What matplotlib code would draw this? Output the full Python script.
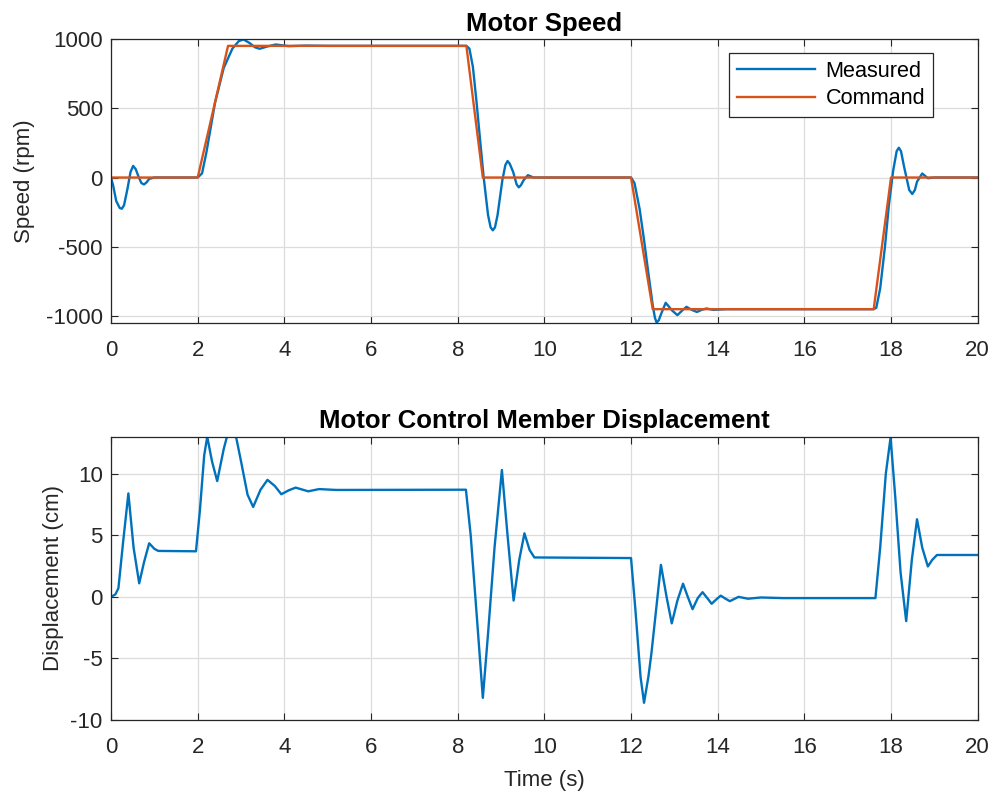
import numpy as np
import matplotlib.pyplot as plt


# Data ------------------------------------------------------------------

Command_T = [0, 2.0, 2.7, 8.2, 8.58, 12.0, 12.5, 17.6, 18.0, 20]
Command_V = [0, 0, 950, 950, 0, 0, -950, -950, 0, 0]

Speed_T = [0, 0.05, 0.12, 0.2, 0.25, 0.3, 0.38, 0.45, 0.51, 0.57, 0.63, 0.7, 0.76, 0.82, 0.88, 1.0,
           2.0, 2.1, 2.2, 2.4, 2.6, 2.8, 2.95, 3.06, 3.2, 3.32, 3.43, 3.6, 3.8, 4.1, 4.5, 5.0,
           8.2, 8.27, 8.35, 8.43, 8.52, 8.6, 8.7, 8.76, 8.81, 8.86, 8.92, 9.03, 9.1, 9.15, 9.2,
           9.28, 9.36, 9.41, 9.46, 9.52, 9.62, 9.75,
           12.0, 12.08, 12.2, 12.3, 12.4, 12.5, 12.55, 12.59, 12.64, 12.7, 12.8, 12.95, 13.07,
           13.18, 13.28, 13.4, 13.52, 13.63, 13.74, 13.9, 14.2,
           17.6, 17.66, 17.75, 17.86, 17.95, 18.05, 18.13, 18.18, 18.23, 18.3, 18.42, 18.49,
           18.55, 18.6, 18.72, 18.85, 19.0, 20]
Speed_V = [0, -60, -170, -220, -225, -200, -80, 40, 84, 60, 10, -40, -50, -35, -10, 0,
           0, 30, 180, 540, 790, 930, 985, 996, 970, 940, 929, 945, 960, 948, 952, 950,
           950, 930, 800, 560, 260, 0, -270, -360, -381, -360, -270, -20, 90, 119, 100,
           40, -50, -71, -55, -20, 17, 0,
           0, -40, -230, -450, -690, -920, -1010, -1047, -1030, -980, -904, -960, -993,
           -960, -933, -955, -970, -955, -945, -955, -950,
           -950, -940, -800, -500, -200, 50, 190, 215, 190, 80, -90, -119,
           -90, -30, 29, -5, 0, 0]

Disp_T = [0, 0.1, 0.17, 0.28, 0.40, 0.52, 0.65, 0.76, 0.88, 1.0, 1.09, 1.96,
          2.05, 2.15, 2.22, 2.33, 2.45, 2.6, 2.72, 2.85, 3.0, 3.15, 3.28, 3.45, 3.61, 3.78,
          3.93, 4.1, 4.26, 4.55, 4.8, 5.2, 8.19,
          8.3, 8.45, 8.58, 8.7, 8.85, 9.02, 9.15, 9.29, 9.42, 9.54, 9.66, 9.77, 12.0,
          12.1, 12.22, 12.3, 12.4, 12.47, 12.58, 12.69, 12.82, 12.94, 13.07, 13.2, 13.31,
          13.42, 13.54, 13.65, 13.76, 13.86, 13.97, 14.07, 14.18, 14.28, 14.48, 14.7, 15.0,
          15.5, 17.64,
          17.75, 17.88, 17.99, 18.1, 18.22, 18.35, 18.48, 18.6, 18.72, 18.85, 18.95, 19.06, 20]
Disp_V = [0, 0.2, 0.7, 4.5, 8.4, 4.0, 1.1, 2.8, 4.35, 3.9, 3.73, 3.7,
          7.0, 11.5, 13.0, 11.0, 9.4, 12.0, 13.6, 13.6, 11.0, 8.3, 7.3, 8.7, 9.5, 9.0,
          8.33, 8.65, 8.87, 8.57, 8.75, 8.68, 8.7,
          5.0, -2.0, -8.2, -3.0, 4.0, 10.3, 5.0, -0.3, 3.0, 5.16, 3.8, 3.2, 3.15,
          -1.0, -6.5, -8.6, -6.5, -4.6, -1.0, 2.6, 0.0, -2.15, -0.3, 1.07, 0.0,
          -1.0, -0.1, 0.38, -0.1, -0.56, -0.2, 0.1, -0.15, -0.35, 0.0, -0.15, -0.05,
          -0.1, -0.1,
          4.0, 10.0, 12.95, 8.0, 2.0, -1.97, 3.0, 6.3, 4.0, 2.47, 3.0, 3.4, 3.4]

X_Ticks = np.arange(0, 21, 2)


# Plotting --------------------------------------------------------------

plt.rcParams["font.family"] = ["Liberation Sans", "DejaVu Sans"]
plt.rcParams["axes.unicode_minus"] = False

Blue = "#0072BD"
Orange = "#D95319"
Dark = "#262626"
Font = 16

fig = plt.figure(figsize=(9.95, 7.98), dpi=100)
ax0 = fig.add_axes([0.1116, 0.5952, 0.871, 0.356])
ax1 = fig.add_axes([0.1116, 0.0977, 0.871, 0.355])


def Style(ax):
    ax.set_xlim(0, 20)
    ax.set_xticks(X_Ticks)
    ax.grid(True, color="#dcdcdc", linewidth=0.9)
    ax.set_axisbelow(True)
    ax.tick_params(direction="in", top=True, right=True, length=5, width=0.8,
                   colors=Dark, labelsize=Font)
    ax.tick_params(axis="x", pad=12)
    ax.tick_params(axis="y", pad=6)
    for Spine in ax.spines.values():
        Spine.set_color(Dark)
        Spine.set_linewidth(0.9)


# Motor speed
ax0.plot(Speed_T, Speed_V, color=Blue, linewidth=1.7, label="Measured")
ax0.plot(Command_T, Command_V, color=Orange, linewidth=1.7, label="Command")
Style(ax0)
ax0.set_ylim(-1050, 1000)
ax0.set_yticks([-1000, -500, 0, 500, 1000])
ax0.set_title("Motor Speed", fontsize=18.5, fontweight="bold", pad=6)
ax0.set_ylabel("Speed (rpm)", fontsize=Font, color=Dark, labelpad=8)
Leg = ax0.legend(loc="upper right", bbox_to_anchor=(0.948, 0.95), fontsize=15.6,
                 fancybox=False, framealpha=1, edgecolor=Dark, handlelength=3.6,
                 borderaxespad=0, borderpad=0.35, labelspacing=0.3, handletextpad=0.5)
Leg.get_frame().set_linewidth(0.9)

# Displacement
ax1.plot(Disp_T, Disp_V, color=Blue, linewidth=1.7)
Style(ax1)
ax1.set_ylim(-10, 13)
ax1.set_yticks([-10, -5, 0, 5, 10])
ax1.set_title("Motor Control Member Displacement", fontsize=18.5,
              fontweight="bold", pad=6)
ax1.set_ylabel("Displacement (cm)", fontsize=Font, color=Dark, labelpad=5)
ax1.set_xlabel("Time (s)", fontsize=Font, color=Dark, labelpad=9)

fig.savefig("out.png", dpi=100)
